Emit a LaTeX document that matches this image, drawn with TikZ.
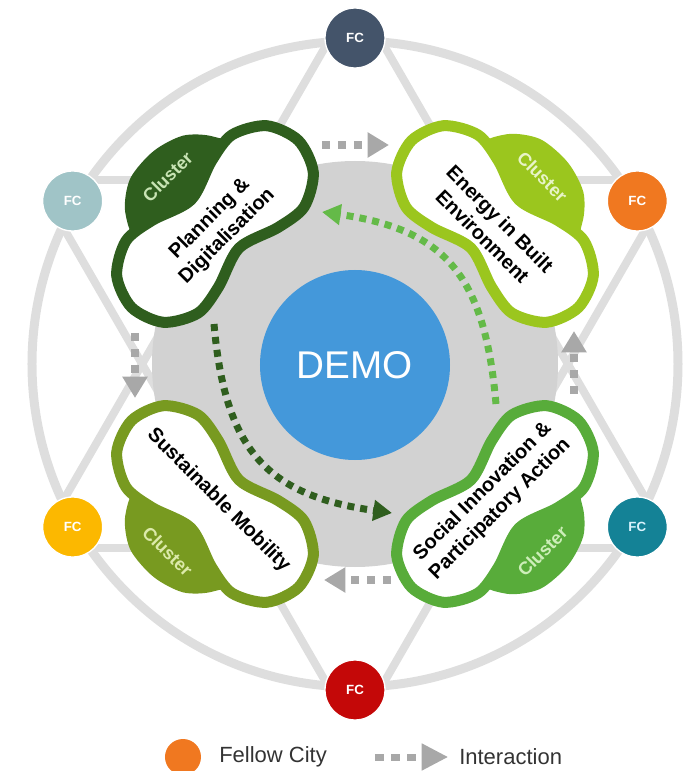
\documentclass[tikz,border=0pt]{standalone}
\usepackage{fontspec}
\setmainfont{Liberation Sans}
\usetikzlibrary{arrows.meta, calc, backgrounds}

\definecolor{fcT}{RGB}{68,84,106}
\definecolor{fcLU}{RGB}{160,196,199}
\definecolor{fcRU}{RGB}{240,120,32}
\definecolor{fcLL}{RGB}{252,184,0}
\definecolor{fcRL}{RGB}{20,130,150}
\definecolor{fcB}{RGB}{196,8,8}
\definecolor{pdgreen}{RGB}{47,94,30}
\definecolor{ebgreen}{RGB}{155,198,30}
\definecolor{smgreen}{RGB}{120,154,32}
\definecolor{sigreen}{RGB}{88,172,58}
\definecolor{pdtag}{RGB}{200,228,180}
\definecolor{ebtag}{RGB}{232,244,200}
\definecolor{smtag}{RGB}{220,234,170}
\definecolor{sitag}{RGB}{205,238,185}
\definecolor{arrgreen}{RGB}{100,186,72}
\definecolor{demoblue}{RGB}{68,152,218}
\definecolor{ringgray}{RGB}{222,222,222}
\definecolor{diskgray}{RGB}{210,210,210}
\definecolor{arrgray}{RGB}{168,168,168}

\newcommand\drawcluster[7]{%
	\begin{scope}[shift={(#2)}, rotate=#3, transform shape]
		\fill[#5] plot[smooth cycle] coordinates
			{(-64,#4*42) (-55,#4*72) (-28,#4*92) (8,#4*95) (40,#4*85) (60,#4*64) (64,#4*42) (0,#4*30)};
		\draw[#5, line width=8.25pt, fill=white] plot[smooth cycle] coordinates
			{(118,0) (106,33) (75,51) (42,47) (0,34) (-42,47) (-75,51) (-106,33)
			 (-118,0) (-106,-33) (-75,-51) (-42,-47) (0,-34) (42,-47) (75,-51) (106,-33)};
		\node[clname]         (#1)     at (0,-#4*5) {#7};
		\node[cltag, text=#6] (#1-tag) at (0,#4*67) {Cluster};
	\end{scope}}

\begin{document}
\begin{tikzpicture}[x=0.75pt, y=0.75pt,
	fc/.style={circle, minimum size=45pt, inner sep=0pt, draw=white, line width=1pt, text=white, font=\bfseries\fontsize{10}{12}\selectfont},
	link/.style={ringgray, line width=6pt},
	inter/.style={arrgray, line width=6pt, dash pattern=on 6pt off 6pt, -{Triangle[length=16pt, width=18pt]}},
	flow/.style={line width=5.25pt, dash pattern=on 5.25pt off 4.5pt, -{Triangle[length=14pt, width=15pt]}},
	clname/.style={font=\bfseries\fontsize{15}{18.5}\selectfont, align=center, inner sep=0pt},
	cltag/.style={font=\bfseries\fontsize{13.5}{16}\selectfont, inner sep=0pt},
	key/.style={font=\fontsize{16.5}{20}\selectfont, text=black!80, anchor=west, inner sep=0pt}]
	\useasboundingbox (-355,-407) rectangle (334,364);

	\node[fc, fill=fcT ] (t)  at ( 90:326) {FC};
	\node[fc, fill=fcLU] (lu) at (150:326) {FC};
	\node[fc, fill=fcRU] (ru) at ( 30:326) {FC};
	\node[fc, fill=fcLL] (ll) at (210:326) {FC};
	\node[fc, fill=fcRL, text=cyan!15!white] (lr) at (330:326) {FC};
	\node[fc, fill=fcB ] (b)  at (270:326) {FC};

	\begin{scope}[on background layer]
		\draw[link, line width=6.75pt] (0,0) circle (323);
		\draw[link] ($(t)!16pt!-90:(ll)$)  -- ($(ll)!16pt!90:(t)$);
		\draw[link] ($(ll)!16pt!-90:(lr)$) -- ($(lr)!16pt!90:(ll)$);
		\draw[link] ($(lr)!16pt!-90:(t)$)  -- ($(t)!16pt!90:(lr)$);
		\draw[link] ($(lu)!16pt!-90:(b)$)  -- ($(b)!16pt!90:(lu)$);
		\draw[link] ($(b)!16pt!-90:(ru)$)  -- ($(ru)!16pt!90:(b)$);
		\draw[link] ($(ru)!16pt!-90:(lu)$) -- ($(lu)!16pt!90:(ru)$);
	\end{scope}

	\fill[diskgray] (0,0) circle (203);
	\node[circle, fill=demoblue, minimum size=142.5pt, text=white, font=\fontsize{29}{34}\selectfont] (demo) at (0,-1) {DEMO};

	\coordinate (pdS) at (-141,40);
	\coordinate (siW) at (37,-149);
	\coordinate (siN) at (141,-40);
	\coordinate (pdE) at (-33,152);
	\draw[flow, pdgreen]  (pdS) to[out=-85, in=172, looseness=1.25] (siW);
	\draw[flow, arrgreen] (siN) to[out=95,  in=-8,  looseness=1.25] (pdE);

	\drawcluster{pd}{-140,140}{45}{1}{pdgreen}{pdtag}{Planning \&\\Digitalisation}
	\drawcluster{eb}{140,140}{-45}{1}{ebgreen}{ebtag}{Energy in Built\\Environment}
	\drawcluster{sm}{-140,-140}{-45}{-1}{smgreen}{smtag}{Sustainable Mobility}
	\drawcluster{si}{140,-140}{45}{-1}{sigreen}{sitag}{Social Innovation \&\\Participatory Action}

	\coordinate (pdR) at (-33,219);
	\coordinate (ebL) at (34,219);
	\coordinate (pdD) at (-220,31);
	\coordinate (smU) at (-220,-34);
	\coordinate (siU) at (219,-30);
	\coordinate (ebD) at (219,33);
	\coordinate (siL) at (36,-216);
	\coordinate (smR) at (-31,-216);
	\draw[inter] (pdR) -- (ebL);
	\draw[inter] (pdD) -- (smU);
	\draw[inter] (siU) -- (ebD);
	\draw[inter] (siL) -- (smR);

	\node[circle, fill=fcRU, minimum size=27pt, inner sep=0pt] (key1) at (-172,-393) {};
	\node[key] (key1t) at (-136,-393) {Fellow City};
	\node[key] (key2t) at (104,-393) {Interaction};
	\coordinate (ia) at (20,-393);
	\draw[inter, line width=5.25pt, dash pattern=on 7pt off 5pt, -{Triangle[length=20pt, width=19pt]}] (ia) -- ([xshift=-8pt]key2t.west);
\end{tikzpicture}
\end{document}
